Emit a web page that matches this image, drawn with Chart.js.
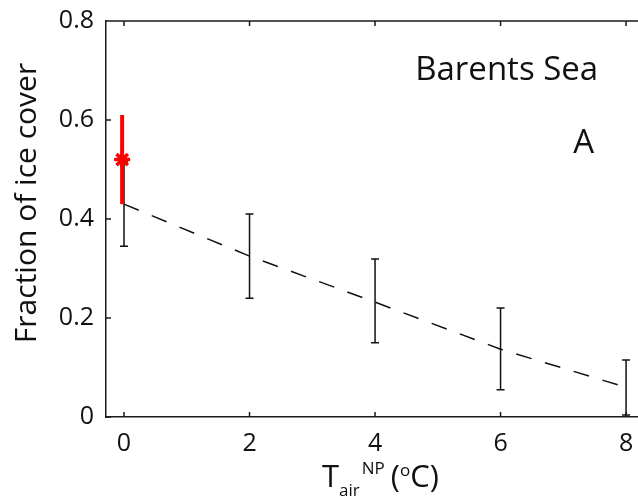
<!DOCTYPE html>
<html>
<head>
<meta charset="utf-8">
<script src="https://cdn.jsdelivr.net/npm/chart.js@4.4.0/dist/chart.umd.min.js"></script>
<style>
  html, body { margin: 0; padding: 0; background: #fff; }
  #wrap { width: 638px; height: 500px; }
</style>
</head>
<body>
<div id="wrap"><canvas id="chart" width="638" height="500"></canvas></div>
<script>
// model: ice cover fraction vs T_air at North Pole
const temps = [0, 2, 4, 6, 8];
const meanCover = [0.43, 0.325, 0.232, 0.137, 0.06];
const lowCover = [0.345, 0.24, 0.15, 0.055, 0.004];
const highCover = [0.515, 0.41, 0.319, 0.22, 0.115];

// observed value (red)
const obsTemp = [-0.03];
const obsCover = [0.52];
const obsLow = [0.43];
const obsHigh = [0.61];

const xTicks = [0, 2, 4, 6, 8];
const yTicks = [0, 0.2, 0.4, 0.6, 0.8];

const FONT = "'Open Sans', 'DejaVu Sans', sans-serif";
const AXIS_COLOR = "#1a1a1a";

function noPad(s) {
  s.paddingLeft = 0;
  s.paddingRight = 0;
  s.paddingTop = 0;
  s.paddingBottom = 0;
}

// error bars + the red observation bar
const errorBars = {
  id: "errorBars",
  beforeDatasetsDraw(chart) {
    const { ctx, scales: { x, y } } = chart;
    ctx.save();
    ctx.strokeStyle = "#111";
    ctx.lineWidth = 1.5;
    temps.forEach((t, i) => {
      const px = x.getPixelForValue(t);
      const top = y.getPixelForValue(highCover[i]);
      const bot = y.getPixelForValue(lowCover[i]);
      ctx.beginPath();
      ctx.moveTo(px, top);
      ctx.lineTo(px, bot);
      ctx.moveTo(px - 4, top);
      ctx.lineTo(px + 4, top);
      ctx.moveTo(px - 4, bot);
      ctx.lineTo(px + 4, bot);
      ctx.stroke();
    });
    ctx.restore();
  },
  afterDatasetsDraw(chart) {
    const { ctx, scales: { x, y } } = chart;
    ctx.save();
    ctx.strokeStyle = "#ff0000";
    ctx.lineWidth = 4;
    obsTemp.forEach((t, i) => {
      const px = x.getPixelForValue(t);
      ctx.beginPath();
      ctx.moveTo(px, y.getPixelForValue(obsHigh[i]));
      ctx.lineTo(px, y.getPixelForValue(obsLow[i]));
      ctx.stroke();
    });
    ctx.restore();
  }
};

// matlab style box: inward ticks, top border, labels
const frame = {
  id: "frame",
  afterDraw(chart) {
    const { ctx, chartArea: a, scales: { x, y } } = chart;
    ctx.save();
    ctx.strokeStyle = AXIS_COLOR;
    ctx.lineWidth = 1.5;
    ctx.beginPath();
    ctx.moveTo(a.left, a.top);
    ctx.lineTo(a.right, a.top);
    xTicks.forEach((t) => {
      const px = x.getPixelForValue(t);
      ctx.moveTo(px, a.bottom);
      ctx.lineTo(px, a.bottom - 5);
      ctx.moveTo(px, a.top);
      ctx.lineTo(px, a.top + 5);
    });
    yTicks.forEach((v) => {
      const py = y.getPixelForValue(v);
      ctx.moveTo(a.left, py);
      ctx.lineTo(a.left + 5, py);
    });
    ctx.stroke();

    // annotations
    ctx.fillStyle = "#111";
    ctx.textBaseline = "alphabetic";
    ctx.textAlign = "left";
    ctx.font = "33px " + FONT;
    ctx.fillText("Barents Sea", x.getPixelForValue(4.64), y.getPixelForValue(0.68));
    ctx.fillText("A", x.getPixelForValue(7.16), y.getPixelForValue(0.533));

    // y axis title
    ctx.save();
    ctx.translate(27, 203);
    ctx.rotate(-Math.PI / 2);
    ctx.textAlign = "center";
    ctx.textBaseline = "middle";
    ctx.font = "30px " + FONT;
    ctx.fillText("Fraction of ice cover", 0, 0);
    ctx.restore();

    // x axis title with sub/superscripts
    let cx = 322;
    const base = 487;
    ctx.font = "31px " + FONT;
    ctx.fillText("T", cx, base);
    cx += ctx.measureText("T").width;
    ctx.font = "17px " + FONT;
    ctx.fillText("air", cx, base + 9);
    const airW = ctx.measureText("air").width;
    ctx.fillText("NP", cx + airW + 2, base - 13);
    cx += airW + 2 + ctx.measureText("NP").width + 6;
    ctx.font = "31px " + FONT;
    ctx.fillText("(", cx, base);
    cx += ctx.measureText("(").width;
    ctx.font = "17px " + FONT;
    ctx.fillText("o", cx, base - 11);
    cx += ctx.measureText("o").width;
    ctx.font = "31px " + FONT;
    ctx.fillText("C)", cx, base);
    ctx.restore();
  }
};

const chart = new Chart(document.getElementById("chart"), {
  type: "scatter",
  data: {
    datasets: [
      {
        type: "line",
        data: temps.map((t, i) => ({ x: t, y: meanCover[i] })),
        borderColor: "#111",
        borderWidth: 1.5,
        borderDash: [16, 14],
        pointRadius: 0,
        fill: false,
        tension: 0
      },
      {
        data: obsTemp.map((t, i) => ({ x: t, y: obsCover[i] })),
        pointStyle: "star",
        pointRadius: 8,
        borderColor: "#ff0000",
        backgroundColor: "#ff0000",
        borderWidth: 3.5
      }
    ]
  },
  options: {
    responsive: false,
    animation: false,
    events: [],
    layout: { autoPadding: false, padding: { top: 21, right: 0, left: 0, bottom: 0 } },
    plugins: { legend: { display: false }, tooltip: { enabled: false } },
    scales: {
      x: {
        type: "linear",
        min: -0.287,
        max: 8.19,
        afterBuildTicks: (s) => { s.ticks = xTicks.map((v) => ({ value: v })); },
        afterFit: (s) => { s.height = 83; noPad(s); },
        grid: { display: false, drawTicks: false },
        border: { display: true, color: AXIS_COLOR, width: 1.5 },
        ticks: { color: "#111", padding: 12, font: { family: FONT, size: 25 } }
      },
      y: {
        type: "linear",
        min: 0,
        max: 0.8,
        afterBuildTicks: (s) => { s.ticks = yTicks.map((v) => ({ value: v })); },
        afterFit: (s) => { s.width = 106; noPad(s); },
        grid: { display: false, drawTicks: false },
        border: { display: true, color: AXIS_COLOR, width: 1.5 },
        ticks: {
          color: "#111",
          padding: 12,
          font: { family: FONT, size: 25 },
          callback: (v) => (v === 0 ? "0" : v.toFixed(1))
        }
      }
    }
  },
  plugins: [errorBars, frame]
});
</script>
</body>
</html>
